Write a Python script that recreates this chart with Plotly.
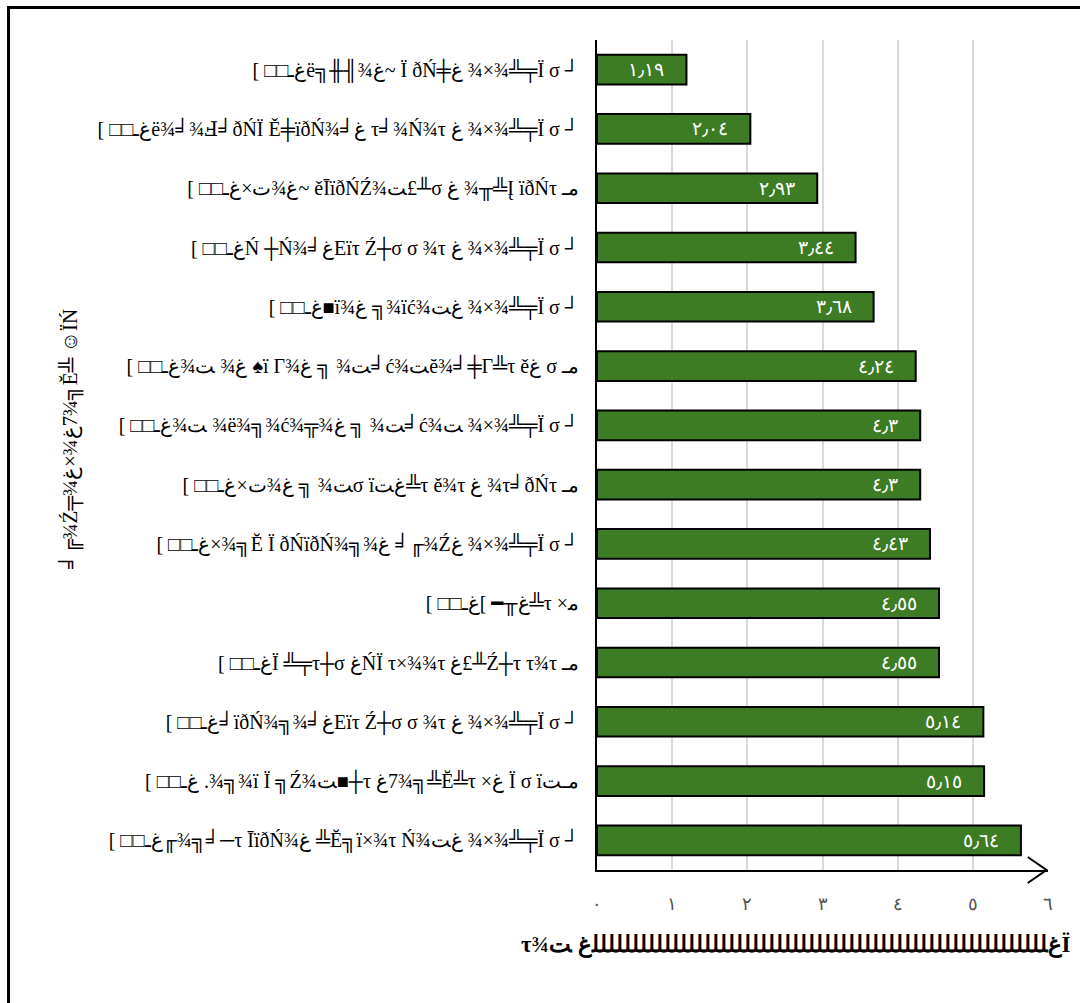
import plotly.graph_objects as go

# Category labels, top to bottom, exactly as they are drawn
categories = [
    "[ □□ـﻍë╗╫╢¾ﻍ~ Ï ðŃ╪ﻍ ¾×¾╩╤Ï σ ┘",
    "[ □□ـﻍë¾╛¾Ⅎ╛ðŃÏ Ě╪ïðŃ¾╛ﻍ τ╛¾Ń¾τ ﻍ ¾×¾╩╤Ï σ ┘",
    "[ □□ـﻍ×ﺕ¾ﻍ~ ěĪïðŃŹ¾ﺖ£╨σ ﻍ ¾╥╩Į ïðŃτ ـﻣ",
    "[ □□ـﻍŃ ┼Ń¾╛ﻍEïτ Ź┼σ σ ¾τ ﻍ ¾×¾╩╤Ï σ ┘",
    "[ □□ـﻍ■ï¾ﻍ ╗¾ïć¾ﺖﻍ ¾×¾╩╤Ï σ ┘",
    "[ □□ـﻍ¾ﺖ ¾ﻍ ♠ï Г¾ﻍ ╗ ¾ﺖ╛ć¾ﺖĕ¾╛╪Г╩τ ěﻍ σ ـﻣ",
    "[ □□ـﻍ¾ﺖ ¾ë¾╗¾ć¾╦¾ﻍ ╗ ¾ﺖ╛ć¾ﺖ ¾×¾╩╤Ï σ ┘",
    "[ □□ـﻍ×ﺕ¾ﻍ ╗ ¾ﺖσ ïﺖﻍ╩τ ě¾τ ﻍ ¾τ╛ðŃτ ـﻣ",
    "[ □□ـﻍ×¾╗Ĕ Ï ðŃïðŃ¾╗¾ﻍ ╛╓¾Źﻍ ¾×¾╩╤Ï σ ┘",
    "[ □□ـﻍ[ ━╥ﻍ╩τ ×ﻣ",
    "[ □□ـﻍÏ ╩╤τ┼σ ﻍŃÏ τ×¾¾τ ﻍ£╨Ź┼τ τ¾τ ـﻣ",
    "[ □□ـﻍ╛ïðŃ¾╗¾╛ﻍEïτ Ź┼σ σ ¾τ ﻍ ¾×¾╩╤Ï σ ┘",
    "[ □□ـﻍ .¾╗¾ï Ï ╗Ź¾ﺖ■┼τ ﻍ7¾╗╩Ĕ╩τ ×ﻍ Ï σ ïﺖـﻣ",
    "[ □□ـﻍ╓¾╗╛─τ ĪïðŃ¾ﻍ ╩Ĕ╗ï×¾τ Ń¾ﺖﻍ ¾×¾╩╤Ï σ ┘",
]

values = [1.19, 2.04, 2.93, 3.44, 3.68, 4.24, 4.30, 4.30, 4.43, 4.55, 4.55, 5.14, 5.15, 5.64]

tick_values = [0, 1, 2, 3, 4, 5, 6]

y_title = "╛╔¾Ź╤¾ﻍ×¾ﻍ7¾╗Ĕ╩ ☺ÏŃ"
x_title = "τ¾ﺖ ﻍ" + "ﻠ" * 57 + "ﻍÏ"

LRM = "\u200e"
AR_DIGITS = str.maketrans("0123456789.", "٠١٢٣٤٥٦٧٨٩٫")


def ar_number(v):
    s = f"{v:.2f}".rstrip("0").rstrip(".")
    return s.translate(AR_DIGITS)


def ltr(s):
    # keep every glyph in written left-to-right order
    body = LRM + LRM.join(s) + LRM
    return '<span style="direction:ltr;unicode-bidi:bidi-override">' + body + "</span>"


labels = [ltr(c) for c in categories]
bar_text = [ar_number(v) + "\u2002\u2002" for v in values]
tick_text = [ar_number(t) for t in tick_values]

SERIF = "Liberation Serif, DejaVu Serif, serif"

fig = go.Figure(
    go.Bar(
        x=values,
        y=labels,
        orientation="h",
        width=0.5,
        marker=dict(color="#3d7b24", line=dict(color="#000000", width=2)),
        text=bar_text,
        textposition="inside",
        insidetextanchor="end",
        textfont=dict(family=SERIF, size=19, color="#ffffff"),
        cliponaxis=False,
    )
)

# plot area in pixels: x 597..1048, y 40..870
L, R, T, B = 597, 1048, 40, 870
W, H = R - L, B - T


def px_x(p):
    return (p - L) / W


def px_y(p):
    return (B - p) / H


fig.update_layout(
    width=1080,
    height=1003,
    margin=dict(l=L, r=1080 - R, t=T, b=1003 - B),
    paper_bgcolor="#ffffff",
    plot_bgcolor="#ffffff",
    showlegend=False,
    font=dict(family=SERIF, color="#000000"),
    xaxis=dict(
        range=[0, 6],
        tickvals=tick_values,
        ticktext=tick_text,
        showgrid=True,
        gridcolor="#d9d9d9",
        gridwidth=1.5,
        zeroline=False,
        showline=True,
        linecolor="#000000",
        linewidth=2,
        ticks="",
        ticklabelstandoff=16,
        tickfont=dict(family=SERIF, size=18, color="#555555"),
    ),
    yaxis=dict(
        autorange="reversed",
        showgrid=False,
        zeroline=False,
        showline=True,
        linecolor="#000000",
        linewidth=2,
        ticks="",
        ticklabelstandoff=12,
        tickfont=dict(family=SERIF, size=20, color="#000000"),
    ),
    annotations=[
        dict(
            text=ltr(y_title),
            xref="paper", yref="paper",
            x=px_x(70), y=px_y(440),
            xanchor="center", yanchor="middle",
            textangle=-90,
            showarrow=False,
            font=dict(family=SERIF, size=21, color="#000000"),
        ),
        dict(
            text="<b>" + ltr(x_title) + "</b>",
            xref="paper", yref="paper",
            x=px_x(796), y=px_y(945),
            xanchor="center", yanchor="middle",
            showarrow=False,
            font=dict(family=SERIF, size=23, color="#000000"),
        ),
    ],
    shapes=[
        # arrow head at the end of the value axis
        dict(
            type="path",
            xref="x", yref="paper",
            path=f"M 5.73,{13 / H} L 5.98,0 L 5.73,{-13 / H}",
            line=dict(color="#000000", width=2),
        ),
        # outer frame
        dict(
            type="rect",
            xref="paper", yref="paper",
            x0=px_x(8.5), x1=px_x(1095),
            y0=px_y(1015), y1=px_y(7.5),
            line=dict(color="#000000", width=3),
            fillcolor="rgba(0,0,0,0)",
            layer="above",
        ),
    ],
)

fig.write_html("out.html")
